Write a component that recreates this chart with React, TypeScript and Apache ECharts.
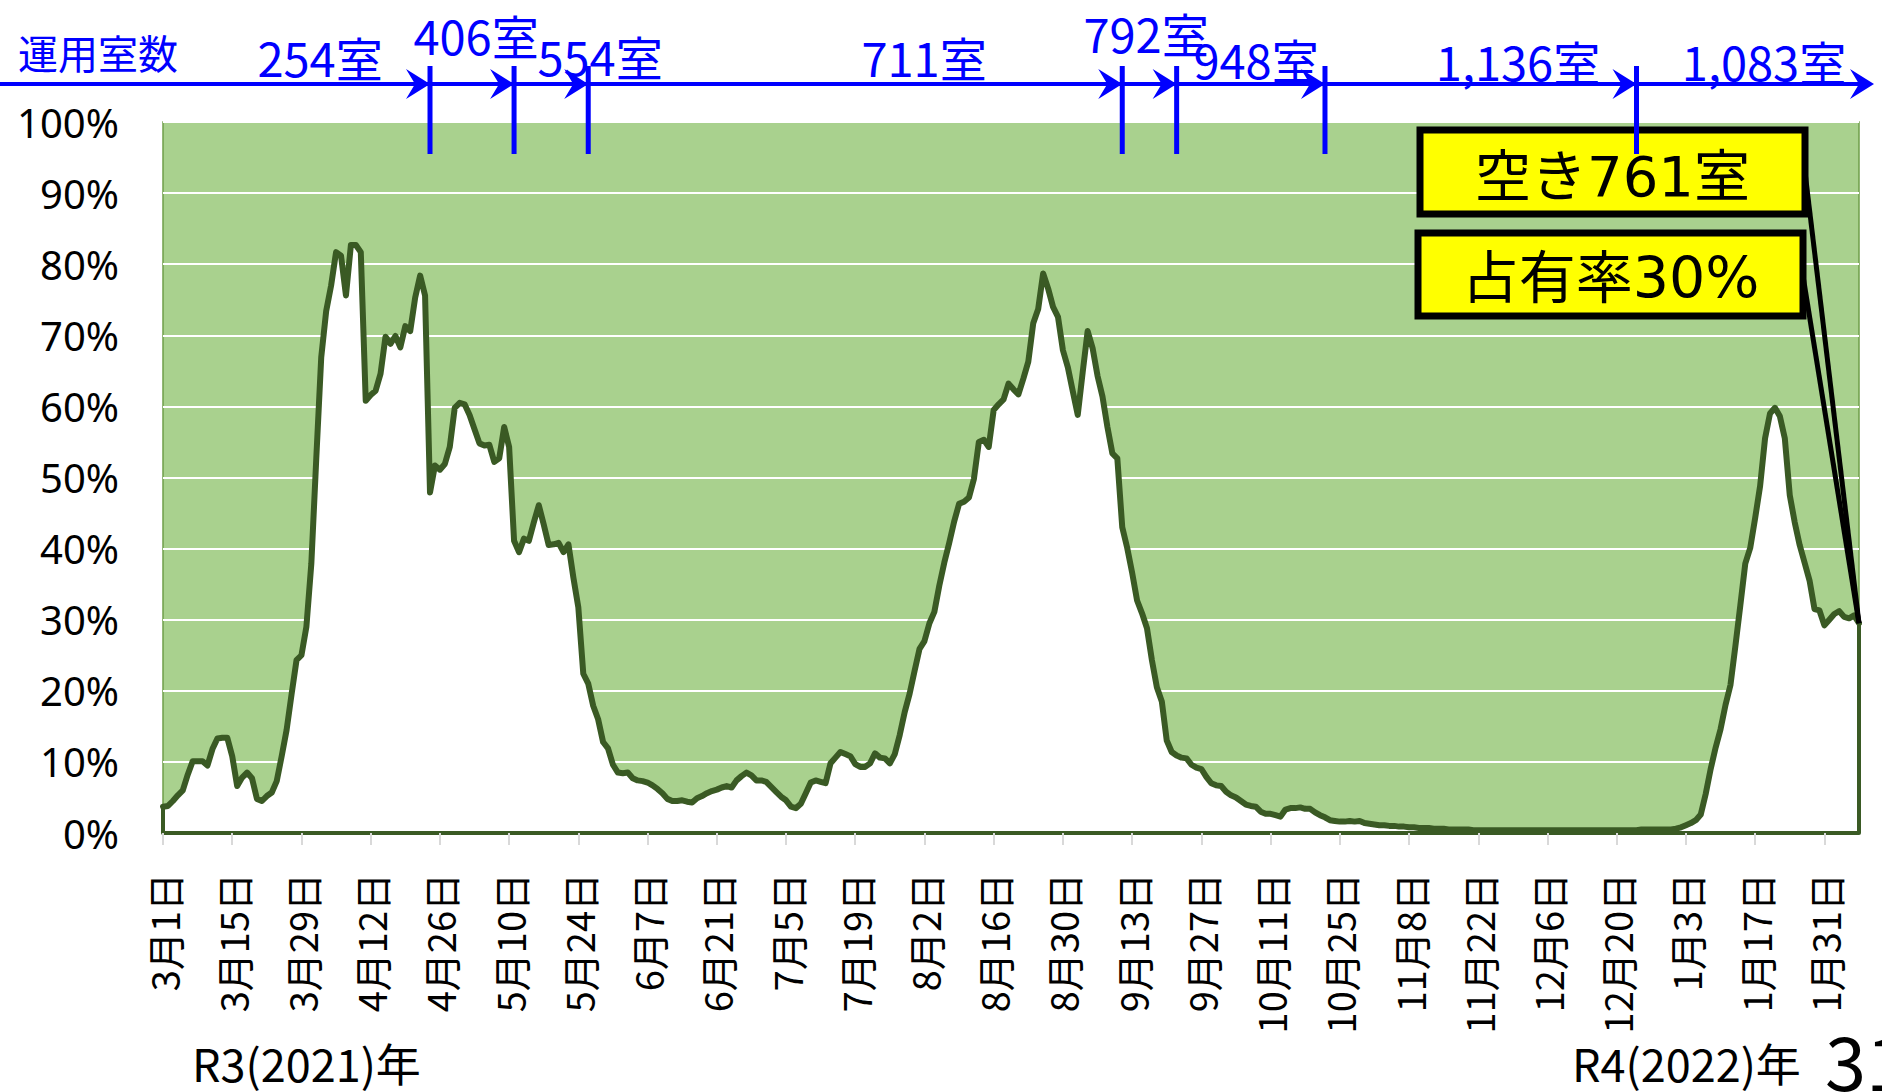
import React, { useEffect, useRef } from "react";
import * as echarts from "echarts";

// Daily occupancy rate (%) from 2021-03-01 to 2022-02-07
const OCCUPANCY: number[] = [
  3.7, 3.8, 4.5, 5.3, 6.0, 8.2, 10.1, 10.1, 10.1, 9.5,
  11.8, 13.3, 13.4, 13.4, 10.8, 6.6, 7.8, 8.5, 7.7, 4.8,
  4.5, 5.2, 5.7, 7.3, 10.8, 14.5, 19.5, 24.3, 25.0, 29.0,
  37.9, 52.7, 66.9, 73.4, 77.0, 81.7, 81.2, 75.6, 82.7, 82.7,
  81.7, 60.8, 61.6, 62.2, 64.6, 69.8, 68.8, 69.9, 68.3, 71.3,
  70.6, 75.3, 78.4, 75.6, 47.9, 51.7, 51.1, 51.9, 54.3, 59.8,
  60.5, 60.3, 58.8, 56.8, 54.8, 54.5, 54.6, 52.2, 52.7, 57.1,
  54.3, 41.1, 39.5, 41.4, 41.1, 43.7, 46.1, 43.4, 40.5, 40.6,
  40.8, 39.5, 40.6, 35.9, 31.7, 22.4, 21.0, 17.9, 16.0, 12.8,
  11.9, 9.6, 8.5, 8.4, 8.5, 7.7, 7.4, 7.3, 7.1, 6.7,
  6.2, 5.6, 4.8, 4.5, 4.5, 4.6, 4.4, 4.3, 4.9, 5.2,
  5.6, 5.9, 6.1, 6.4, 6.6, 6.4, 7.4, 8.0, 8.5, 8.1,
  7.4, 7.4, 7.2, 6.5, 5.8, 5.1, 4.6, 3.7, 3.5, 4.1,
  5.6, 7.1, 7.4, 7.2, 7.0, 9.8, 10.6, 11.4, 11.1, 10.8,
  9.7, 9.3, 9.3, 9.8, 11.2, 10.6, 10.5, 9.8, 11.1, 13.8,
  17.0, 19.6, 22.8, 25.9, 27.0, 29.5, 31.1, 34.8, 38.0, 40.8,
  43.8, 46.3, 46.6, 47.2, 49.8, 55.0, 55.3, 54.3, 59.5, 60.3,
  61.0, 63.2, 62.4, 61.7, 63.9, 66.3, 71.7, 73.7, 78.7, 76.6,
  74.0, 72.6, 67.9, 65.5, 62.1, 58.8, 64.8, 70.6, 68.2, 64.3,
  61.4, 57.1, 53.4, 52.7, 43.0, 40.1, 36.6, 32.7, 30.9, 28.8,
  24.3, 20.5, 18.5, 13.0, 11.4, 10.9, 10.6, 10.5, 9.6, 9.2,
  9.0, 7.9, 7.0, 6.7, 6.6, 5.8, 5.3, 5.0, 4.5, 4.0,
  3.8, 3.7, 3.0, 2.7, 2.7, 2.5, 2.3, 3.3, 3.5, 3.5,
  3.6, 3.4, 3.4, 2.9, 2.5, 2.2, 1.8, 1.7, 1.6, 1.6,
  1.7, 1.6, 1.7, 1.4, 1.3, 1.2, 1.1, 1.1, 1.0, 1.0,
  0.9, 0.9, 0.8, 0.8, 0.7, 0.7, 0.7, 0.6, 0.6, 0.6,
  0.5, 0.5, 0.5, 0.5, 0.5, 0.4, 0.4, 0.4, 0.4, 0.4,
  0.4, 0.4, 0.4, 0.4, 0.4, 0.4, 0.4, 0.4, 0.4, 0.4,
  0.4, 0.4, 0.4, 0.4, 0.4, 0.4, 0.4, 0.4, 0.4, 0.4,
  0.4, 0.4, 0.4, 0.4, 0.4, 0.4, 0.4, 0.4, 0.4, 0.5,
  0.5, 0.5, 0.5, 0.5, 0.5, 0.5, 0.6, 0.8, 1.1, 1.4,
  1.8, 2.6, 5.5, 9.0, 12.0, 14.6, 18.0, 20.8, 26.3, 32.0,
  37.9, 40.1, 44.3, 48.8, 55.5, 59.0, 59.8, 58.6, 55.5, 47.5,
  43.7, 40.5, 38.0, 35.5, 31.5, 31.3, 29.2, 30.0, 30.8, 31.2,
  30.4, 30.2, 30.6, 29.5,
];

// Category labels: one per day starting 2021-03-01
const DATES: string[] = OCCUPANCY.map((_, i) => {
  const d = new Date(2021, 2, 1 + i);
  return `${d.getMonth() + 1}月${d.getDate()}日`;
});

// Day indexes where the number of operating rooms changed
const ROOM_CHANGE_DAYS = [54, 71, 86, 194, 205, 235, 298];
const ROOM_LABELS = ["254室", "406室", "554室", "711室", "792室", "948室", "1,136室", "1,083室"];
const CALLOUT_TEXTS = ["空き761室", "占有率30%"];

const GREEN_BG = "#A9D18E";
const LINE_GREEN = "#3A5A24";
const BLUE = "#0000FF";
const JP = "'Noto Sans CJK JP', 'Noto Sans', sans-serif";

export default function App() {
  const ref = useRef<HTMLDivElement>(null);

  useEffect(() => {
    if (!ref.current) return;
    const chart = echarts.init(ref.current, undefined, { renderer: "svg" });
    const last = OCCUPANCY.length - 1;

    chart.setOption({
      animation: false,
      backgroundColor: "#ffffff",
      grid: {
        left: 163,
        right: 23,
        top: 122,
        bottom: 259,
        show: true,
        backgroundColor: GREEN_BG,
        borderColor: "#6F9F4A",
        borderWidth: 1.5,
      },
      xAxis: {
        type: "category",
        data: DATES,
        boundaryGap: false,
        z: 5,
        axisLine: { show: true, lineStyle: { color: LINE_GREEN, width: 4 } },
        axisTick: { show: true, interval: 13, length: 12, lineStyle: { color: "#D9D9D9", width: 2 } },
        axisLabel: {
          interval: 13,
          rotate: 90,
          margin: 40,
          color: "#000",
          fontSize: 38,
          fontFamily: JP,
        },
        splitLine: { show: false },
      },
      yAxis: {
        type: "value",
        min: 0,
        max: 100,
        interval: 10,
        axisLine: { show: false },
        axisTick: { show: false },
        axisLabel: {
          formatter: "{value}%",
          color: "#000",
          fontSize: 40,
          fontFamily: "'Noto Sans', sans-serif",
          margin: 44,
        },
        splitLine: { show: true, lineStyle: { color: "#ffffff", width: 2 } },
      },
      series: [
        {
          type: "line",
          data: OCCUPANCY,
          symbol: "none",
          lineStyle: { color: LINE_GREEN, width: 6, join: "round", cap: "round" },
          areaStyle: { color: "#ffffff", opacity: 1, origin: "start" },
          z: 3,
          markLine: {
            silent: true,
            symbol: ["none", "none"],
            label: { show: false },
            lineStyle: { color: LINE_GREEN, width: 4, type: "solid" },
            data: [
              [{ coord: [DATES[0], 0] }, { coord: [DATES[0], OCCUPANCY[0]] }],
              [{ coord: [DATES[last], 0] }, { coord: [DATES[last], OCCUPANCY[last]] }],
            ],
          },
        },
      ],
    });

    const px = (i: number, v: number) => chart.convertToPixel({ gridIndex: 0 }, [i, v]) as number[];
    const arrowY = 84;
    const arrowHead = (tip: number, z: number) => ({
      type: "polygon",
      z,
      shape: {
        points: [
          [tip, arrowY],
          [tip - 24, arrowY - 15],
          [tip - 15, arrowY],
          [tip - 24, arrowY + 15],
        ],
      },
      style: { fill: BLUE },
    });
    const txt = (text: string, x: number, y: number, fontSize: number, fill: string, align: string, family = JP, z = 120) => ({
      type: "text",
      z,
      x,
      y,
      style: {
        text,
        fill,
        fontSize,
        fontFamily: family,
        align,
        verticalAlign: "middle",
        textAlign: align,
        textVerticalAlign: "middle",
      },
    });

    const elements: any[] = [];
    // main arrow
    elements.push({
      type: "line",
      z: 110,
      shape: { x1: 0, y1: arrowY, x2: 1860, y2: arrowY },
      style: { stroke: BLUE, lineWidth: 4 },
    });
    elements.push(arrowHead(1874, 110));

    // yellow callout boxes
    const endPt = px(last, OCCUPANCY[last]);
    const boxes = [
      { x: 1420, y: 130, w: 385, h: 84, ty: 176, fs: 56, lineY: 172 },
      { x: 1418, y: 233, w: 385, h: 83, ty: 278, fs: 57, lineY: 276 },
    ];
    boxes.forEach((b, i) => {
      elements.push({
        type: "line",
        z: 100,
        shape: { x1: b.x + b.w, y1: b.lineY, x2: endPt[0], y2: endPt[1] },
        style: { stroke: "#000", lineWidth: 5 },
      });
      elements.push({
        type: "rect",
        z: 101,
        shape: { x: b.x, y: b.y, width: b.w, height: b.h },
        style: { fill: "#FFFF00", stroke: "#000", lineWidth: 7 },
      });
      elements.push(
        txt(CALLOUT_TEXTS[i], b.x + b.w / 2, b.ty, b.fs, "#000", "center", "'DejaVu Sans', 'Noto Sans CJK JP', sans-serif", 102)
      );
    });

    // room change ticks
    ROOM_CHANGE_DAYS.forEach((d) => {
      const x = px(d, 0)[0];
      elements.push({
        type: "line",
        z: 110,
        shape: { x1: x, y1: 66, x2: x, y2: 154 },
        style: { stroke: BLUE, lineWidth: 5 },
      });
      elements.push(arrowHead(x, 110));
    });

    // room labels (centers)
    const labelPos = [
      [320, 56],
      [476, 34],
      [600, 55],
      [924, 56],
      [1146, 32],
      [1256, 58],
      [1518, 60],
      [1764, 60],
    ];
    ROOM_LABELS.forEach((t, i) => {
      elements.push(txt(t, labelPos[i][0], labelPos[i][1], 47, BLUE, "center"));
    });
    elements.push(txt("運用室数", 18, 52, 40, BLUE, "left"));

    // bottom year labels
    elements.push(txt("R3(2021)年", 192, 1062, 45, "#000", "left"));
    elements.push(txt("R4(2022)年", 1572, 1062, 45, "#000", "left"));
    elements.push(txt("31", 1825, 1058, 74, "#000", "left"));

    chart.setOption({ graphic: { elements } });

    return () => chart.dispose();
  }, []);

  return (
    <div
      ref={ref}
      style={{ position: "absolute", left: 0, top: 0, width: 1882, height: 1092, background: "#fff" }}
    />
  );
}
